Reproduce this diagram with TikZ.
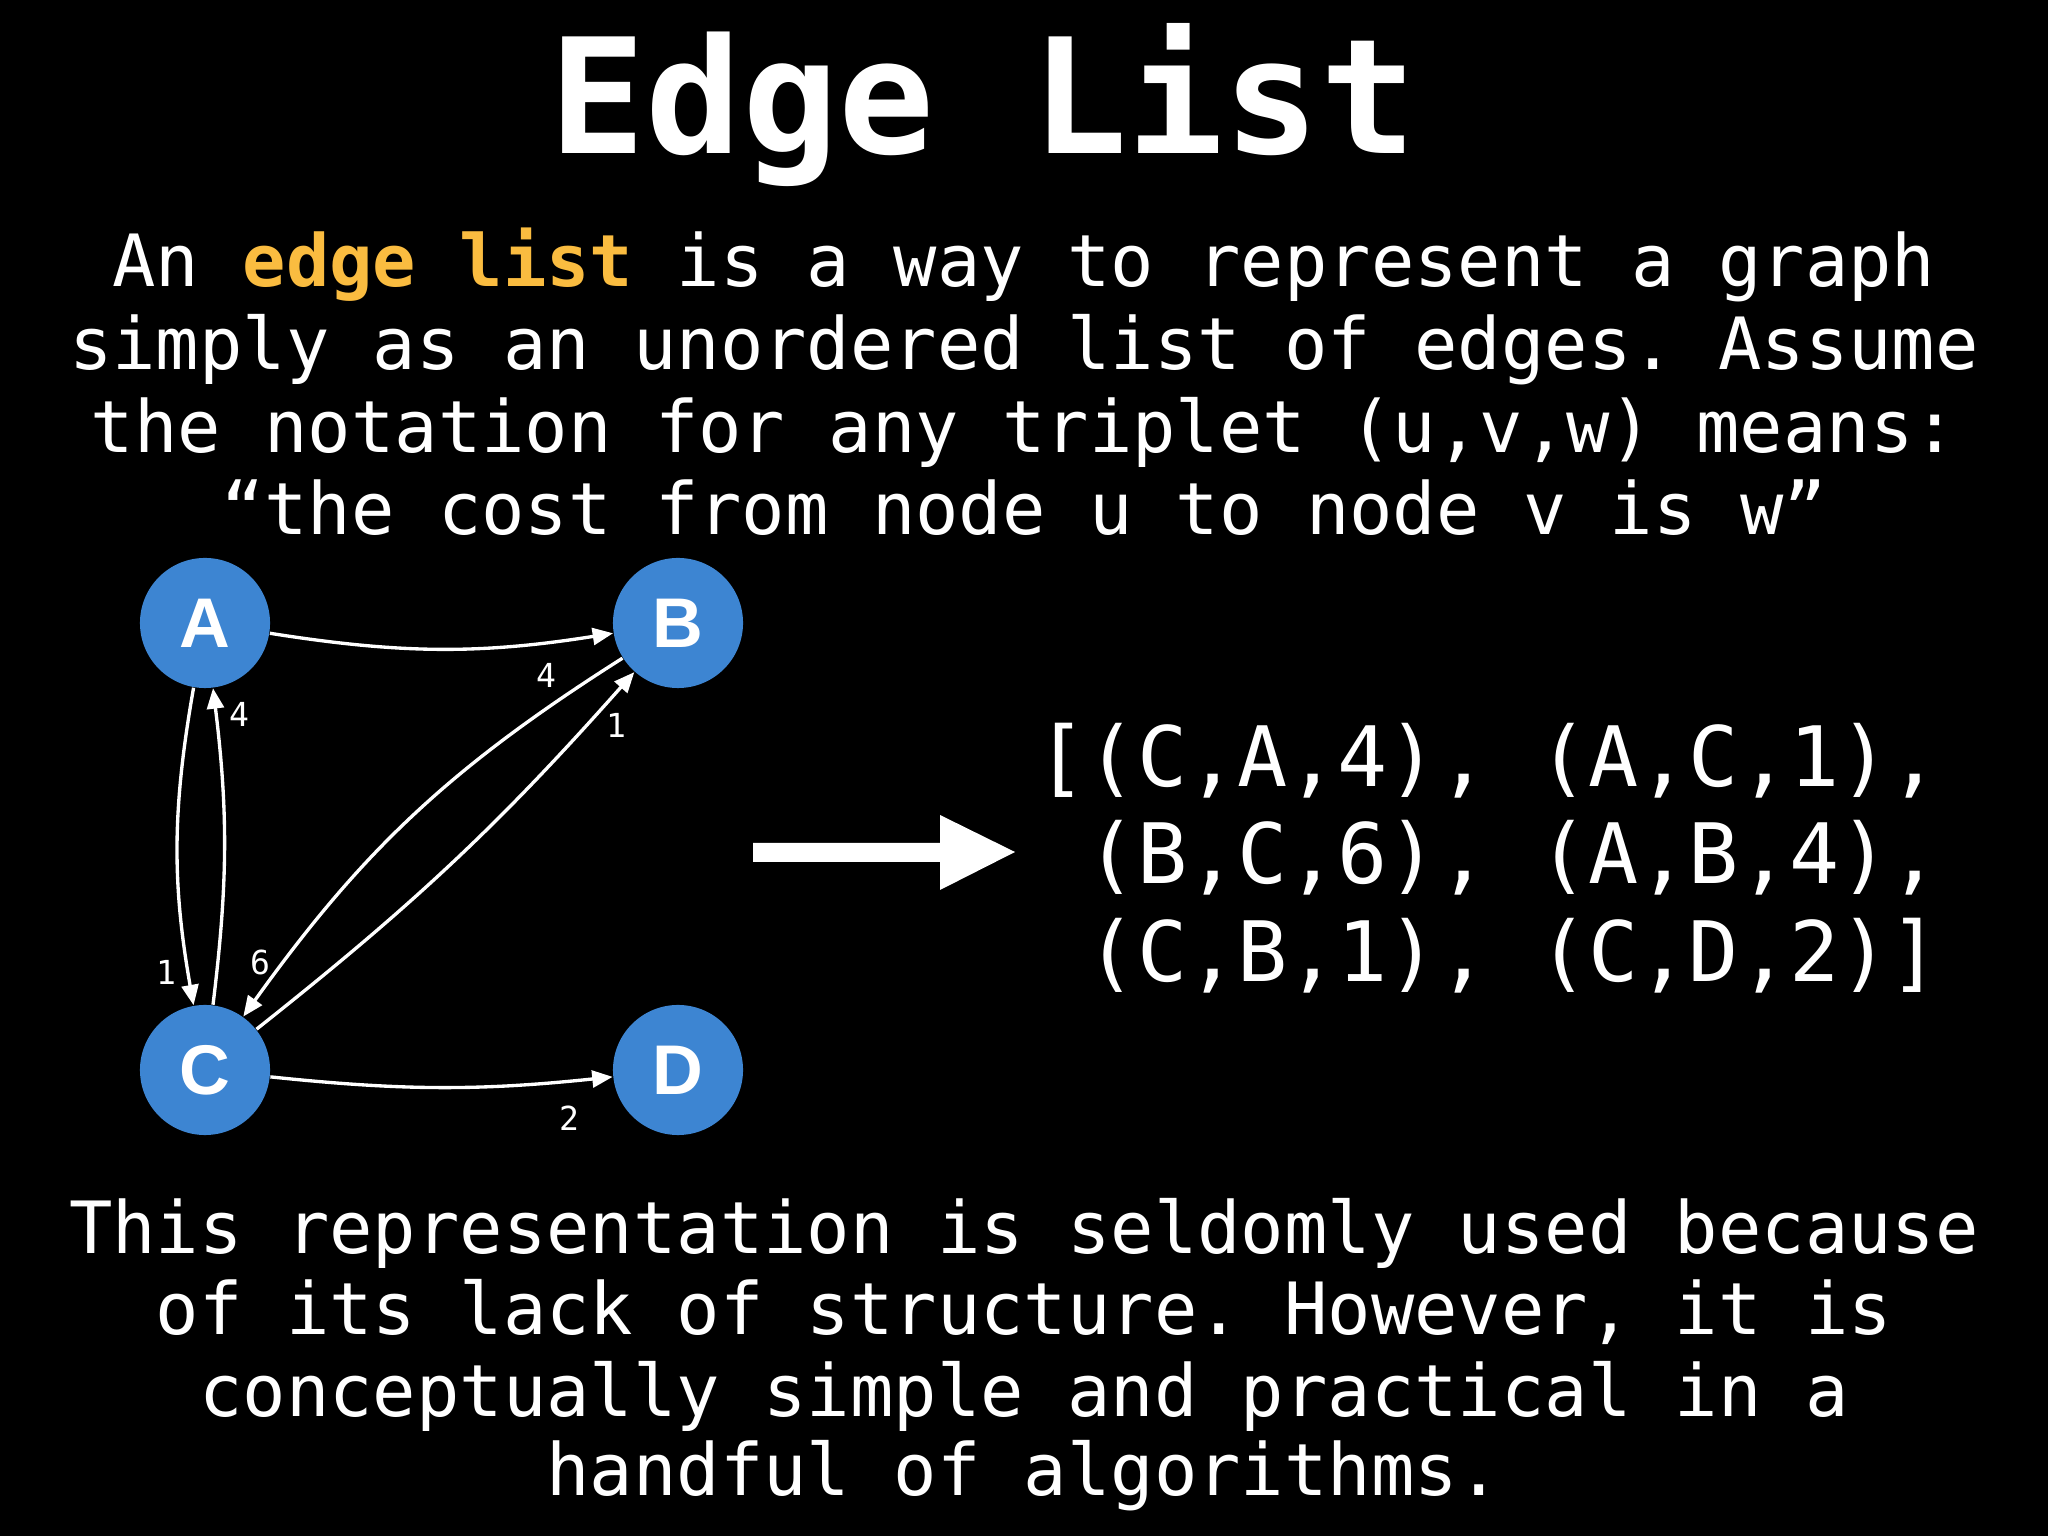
\documentclass[tikz,border=0pt]{standalone}
\usepackage{fontspec}
\setmainfont{DejaVu Sans Mono}
\newfontfamily\monofont{DejaVu Sans Mono}
\newfontfamily\letterfont{Liberation Sans}
\usetikzlibrary{arrows.meta}
\frenchspacing
\definecolor{nodeblue}{RGB}{61,133,210}
\definecolor{hlyellow}{RGB}{250,188,64}
\tikzset{
  titletext/.style={text=white, inner sep=0pt, anchor=base, font=\monofont\bfseries\fontsize{45.5pt}{50pt}\selectfont},
  bodytext/.style={text=white, inner sep=0pt, anchor=base, font=\monofont\fontsize{20.5pt}{23pt}\selectfont},
  listtext/.style={text=white, inner sep=0pt, anchor=base west, font=\monofont\fontsize{23.7pt}{27pt}\selectfont},
  vertex/.style={circle, fill=nodeblue, minimum size=1.3cm, inner sep=0pt, text=white, font=\letterfont\bfseries\fontsize{20pt}{22pt}\selectfont},
  wlabel/.style={text=white, inner sep=0pt, font=\monofont\fontsize{9.4pt}{11pt}\selectfont},
  edge/.style={draw=white, line width=0.95pt, -{Triangle[length=5.8pt,width=4.8pt]}},
}
\begin{document}
\begin{tikzpicture}[x=0.01cm, y=0.01cm]
  \fill[black] (0,0) rectangle (2048,1536);
  \useasboundingbox (0,0) rectangle (2048,1536);

  % title
  \node[titletext] (title) at (983,1382) {Edge List};

  % intro text
  \node[bodytext] (p1) at (1024,1249) {An {\bfseries\color{hlyellow}edge list} is a way to represent a graph};
  \node[bodytext] (p2) at (1024,1166) {simply as an unordered list of edges. Assume};
  \node[bodytext] (p3) at (1024,1083) {the notation for any triplet (u,v,w) means:};
  \node[bodytext] (p4) at (1024,1001) {“the cost from node u to node v is w”};

  % graph nodes
  \node[vertex] (A) at (205,913) {A};
  \node[vertex] (B) at (678,913) {B};
  \node[vertex] (C) at (205,466) {C};
  \node[vertex] (D) at (678,466) {D};

  % edges
  \draw[edge] (A) to[bend right=9] (B);
  \draw[edge] (C) to[bend right=6] (D);
  \draw[edge] (A) to[bend right=10] (C);
  \draw[edge] (C) to[bend right=7] (A);
  \draw[edge] (C) to[bend right=5] (B);
  \draw[edge] (B) to[bend right=11] (C);

  % weights
  \node[wlabel] (wAB) at (546,861) {4};
  \node[wlabel] (wCB) at (616,811) {1};
  \node[wlabel] (wCA) at (239,822) {4};
  \node[wlabel] (wAC) at (166,564) {1};
  \node[wlabel] (wBC) at (260,574) {6};
  \node[wlabel] (wCD) at (569,418) {2};

  % big arrow
  \fill[white] (753,693) -- (940,693) -- (940,721) -- (1015,684) -- (940,646) -- (940,674) -- (753,674) -- cycle;

  % edge list
  \node[listtext] (l1) at (1036,749) {[(C,A,4), (A,C,1),};
  \node[listtext] (l2) at (1036,652) {\hphantom{[}(B,C,6), (A,B,4),};
  \node[listtext] (l3) at (1036,554) {\hphantom{[}(C,B,1), (C,D,2)]};

  % closing text
  \node[bodytext] (q1) at (1024,282) {This representation is seldomly used because};
  \node[bodytext] (q2) at (1024,201) {of its lack of structure. However, it is};
  \node[bodytext] (q3) at (1024,119) {conceptually simple and practical in a};
  \node[bodytext] (q4) at (1024,41) {handful of algorithms.};
\end{tikzpicture}
\end{document}
